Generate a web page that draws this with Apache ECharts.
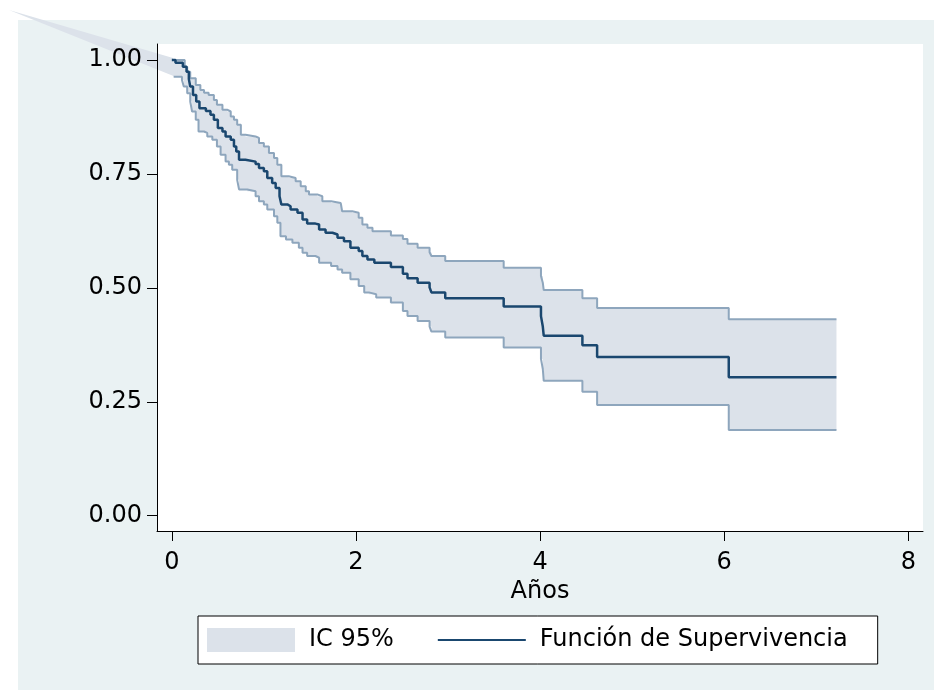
<!DOCTYPE html>
<html>
<head>
<meta charset="utf-8">
<script src="https://cdn.jsdelivr.net/npm/echarts@6/dist/echarts.min.js"></script>
<style>
html,body{margin:0;padding:0;background:#fff;}
#km{width:934px;height:690px;}
</style>
</head>
<body>
<div id="km"></div>
<script>
//Función de supervivencia (Kaplan-Meier): tiempo en años y probabilidad
var survT = [0, 0.04, 0.12, 0.16, 0.185, 0.20, 0.23, 0.265, 0.30, 0.37, 0.42, 0.457, 0.50, 0.55, 0.584, 0.64, 0.675, 0.70, 0.73, 0.80,
	0.91, 0.947, 1.00, 1.037, 1.09, 1.128, 1.17, 1.19, 1.255, 1.29, 1.365, 1.42, 1.47, 1.56, 1.60, 1.67, 1.745, 1.80, 1.87, 1.94,
	2.03, 2.07, 2.125, 2.20, 2.38, 2.51, 2.56, 2.67, 2.80, 2.82, 2.97, 3.605, 4.01, 4.03, 4.04, 4.46, 4.62, 6.05, 7.22];
var survS = [1.0, 0.994, 0.985, 0.974, 0.958, 0.942, 0.923, 0.909, 0.894, 0.888, 0.880, 0.869, 0.851, 0.843, 0.832, 0.825, 0.810, 0.799, 0.781, 0.777,
	0.772, 0.763, 0.756, 0.741, 0.730, 0.719, 0.701, 0.683, 0.679, 0.672, 0.665, 0.650, 0.641, 0.639, 0.628, 0.621, 0.617, 0.610, 0.602, 0.588,
	0.581, 0.570, 0.562, 0.555, 0.546, 0.531, 0.521, 0.511, 0.501, 0.490, 0.477, 0.459, 0.438, 0.415, 0.395, 0.374, 0.348, 0.304, 0.304];
//límite superior del IC 95%
var upT = [0.02, 0.14, 0.167, 0.20, 0.26, 0.31, 0.35, 0.40, 0.457, 0.49, 0.55, 0.60, 0.64, 0.675, 0.71, 0.75, 0.80, 0.91, 0.947, 1.00,
	1.055, 1.11, 1.146, 1.19, 1.27, 1.345, 1.40, 1.455, 1.49, 1.58, 1.635, 1.73, 1.835, 1.85, 1.96, 2.03, 2.07, 2.125, 2.18, 2.38,
	2.51, 2.56, 2.67, 2.80, 2.82, 2.97, 3.605, 4.01, 4.03, 4.04, 4.46, 4.62, 6.05, 7.22];
var upS = [1.0, 0.985, 0.974, 0.960, 0.945, 0.934, 0.928, 0.923, 0.912, 0.902, 0.891, 0.887, 0.876, 0.869, 0.858, 0.836, 0.832, 0.829, 0.818, 0.810,
	0.796, 0.785, 0.770, 0.745, 0.741, 0.734, 0.723, 0.712, 0.705, 0.701, 0.690, 0.686, 0.683, 0.668, 0.665, 0.654, 0.639, 0.632, 0.624, 0.615,
	0.607, 0.597, 0.588, 0.578, 0.570, 0.559, 0.544, 0.526, 0.511, 0.495, 0.477, 0.456, 0.431, 0.431];
//límite inferior del IC 95%
var loT = [0.02, 0.11, 0.13, 0.167, 0.20, 0.22, 0.26, 0.29, 0.35, 0.385, 0.44, 0.49, 0.53, 0.584, 0.62, 0.656, 0.71, 0.73, 0.82, 0.91,
	0.947, 1.00, 1.037, 1.11, 1.146, 1.18, 1.24, 1.31, 1.38, 1.42, 1.47, 1.56, 1.60, 1.73, 1.80, 1.85, 1.94, 2.03, 2.09, 2.14,
	2.22, 2.38, 2.51, 2.56, 2.67, 2.80, 2.82, 2.97, 3.605, 4.01, 4.03, 4.04, 4.46, 4.62, 6.05, 7.22];
var loS = [0.963, 0.956, 0.942, 0.927, 0.909, 0.887, 0.869, 0.843, 0.840, 0.832, 0.825, 0.810, 0.792, 0.777, 0.770, 0.759, 0.737, 0.716, 0.712, 0.701,
	0.690, 0.683, 0.672, 0.657, 0.643, 0.613, 0.606, 0.599, 0.588, 0.577, 0.570, 0.566, 0.555, 0.548, 0.540, 0.533, 0.519, 0.504, 0.490, 0.486,
	0.479, 0.468, 0.449, 0.438, 0.427, 0.415, 0.404, 0.391, 0.369, 0.344, 0.322, 0.296, 0.272, 0.243, 0.188, 0.188];
//marcas de los ejes
var xTicks = [0, 2, 4, 6, 8];
var yTicks = [0, 0.25, 0.5, 0.75, 1];

var fuente = "DejaVu Sans";
var colorIC = "#dce2ea";
var colorBorde = "#8ea6bd";
var colorLinea = "#1a476f";

function pares(t, s){
	return t.map(function(v, i){ return [v, s[i]]; });
}
//puntos de una función escalonada (valor constante hasta el siguiente tiempo)
function escalones(t, s){
	var p = [];
	for (var i = 0; i < t.length; i++){
		p.push([t[i], s[i]]);
		if (i + 1 < t.length) p.push([t[i + 1], s[i]]);
	}
	return p;
}

var myChart = echarts.init(document.getElementById("km"));
var option = {
	animation: false,
	backgroundColor: "#ffffff",
	graphic: [
		{type: "rect", z: -100, shape: {x: 18, y: 20, width: 916, height: 670}, style: {fill: "#eaf2f3"}},
		{type: "polygon", z: 1, shape: {points: [[9, 10], [173, 58], [176, 77]]}, style: {fill: colorIC}}
	],
	grid: {
		left: 157, top: 44, width: 766, height: 487,
		show: true, backgroundColor: "#ffffff", borderWidth: 0,
		outerBoundsMode: "none"
	},
	legend: {
		left: 198, top: 616,
		padding: [12, 30, 12, 9],
		backgroundColor: "#ffffff",
		borderColor: "#000000", borderWidth: 1,
		itemWidth: 88, itemHeight: 24, itemGap: 43,
		selectedMode: false,
		textStyle: {fontFamily: fuente, fontSize: 24, color: "#000", padding: [0, 0, 0, 9]},
		data: [
			{name: "IC 95%", icon: "rect", itemStyle: {color: colorIC, borderWidth: 0}},
			{name: "Función de Supervivencia", itemStyle: {color: "rgba(0,0,0,0)", borderWidth: 0, opacity: 0}}
		]
	},
	xAxis: {
		type: "value", z: 10,
		min: -0.161, max: 8.16,
		name: "Años", nameLocation: "middle", nameGap: 46,
		nameTextStyle: {fontFamily: fuente, fontSize: 24, color: "#000"},
		axisLine: {show: true, onZero: false, lineStyle: {color: "#000", width: 1}},
		axisTick: {show: true, length: 10, lineStyle: {color: "#000"}, customValues: xTicks},
		axisLabel: {fontFamily: fuente, fontSize: 24, color: "#000", margin: 20, customValues: xTicks},
		splitLine: {show: false}
	},
	yAxis: {
		type: "value", z: 10,
		min: -0.0336, max: 1.0351,
		axisLine: {show: true, onZero: false, lineStyle: {color: "#000", width: 1}},
		axisTick: {show: true, length: 10, lineStyle: {color: "#000"}, customValues: yTicks},
		axisLabel: {fontFamily: fuente, fontSize: 24, color: "#000", margin: 15, customValues: yTicks,
			formatter: function(v){ return v.toFixed(2); }},
		splitLine: {show: false}
	},
	series: [
		{
			//banda del IC 95%: superior hacia delante, inferior hacia atrás
			name: "IC 95%", type: "custom", silent: true, z: 1,
			itemStyle: {color: colorIC},
			data: [[upT[0], upS[0]]],
			renderItem: function(params, api){
				var pts = escalones(upT, upS).concat(escalones(loT, loS).reverse())
					.map(function(p){ return api.coord(p); });
				return {type: "polygon", shape: {points: pts}, style: {fill: colorIC}};
			}
		},
		{
			name: "superior", type: "line", step: "end",
			data: pares(upT, upS), symbol: "none", silent: true,
			lineStyle: {color: colorBorde, width: 2}, z: 2
		},
		{
			name: "inferior", type: "line", step: "end",
			data: pares(loT, loS), symbol: "none", silent: true,
			lineStyle: {color: colorBorde, width: 2}, z: 2
		},
		{
			name: "Función de Supervivencia", type: "line", step: "end",
			data: pares(survT, survS), symbol: "none",
			itemStyle: {color: colorLinea},
			lineStyle: {color: colorLinea, width: 2.5}, z: 3
		}
	]
};
myChart.setOption(option);
</script>
</body>
</html>
